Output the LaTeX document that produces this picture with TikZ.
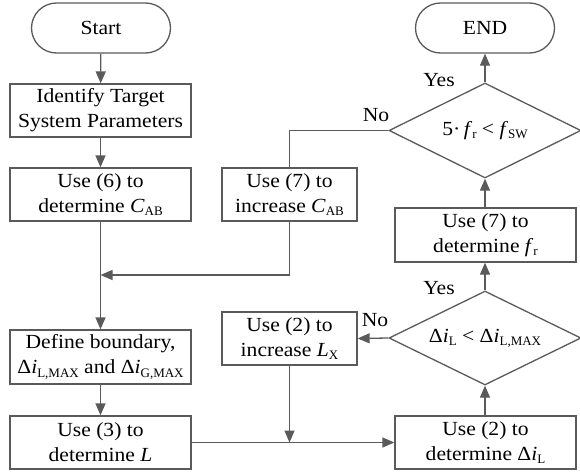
\documentclass[tikz,border=0pt]{standalone}
\usepackage{fontspec}
\setmainfont{Liberation Serif}[FakeStretch=1.08]
\usetikzlibrary{arrows.meta,shapes.geometric}
\definecolor{lc}{HTML}{5A5A5A}
\newcommand\sbs[1]{\raisebox{-0.35ex}{\fontsize{13}{13}\selectfont\addfontfeatures{FakeStretch=1.0}#1}}
\begin{document}
\begin{tikzpicture}[x=1pt,y=-1pt,
  every node/.style={font=\fontsize{20}{25}\selectfont, text=black},
  proc/.style={draw=lc, line width=1.3pt, rectangle, minimum height=53pt, inner sep=0pt, align=center},
  wide/.style={proc, minimum width=181pt},
  narrow/.style={proc, minimum width=135pt},
  term/.style={draw=lc, line width=1.3pt, rectangle, rounded corners=25pt, minimum height=50pt, minimum width=139pt, inner sep=0pt},
  dec/.style={draw=lc, line width=1.3pt, diamond, minimum width=192pt, minimum height=95pt, inner sep=0pt},
  arr/.style={draw=lc, line width=1.3pt, -{Triangle[length=12pt,width=10pt]}},
  ln/.style={draw=lc, line width=1.3pt},
  lab/.style={inner sep=0pt}
]
\useasboundingbox (0,0) rectangle (580,471);
% left column
\node[term] (start) at (101,28) {Start};
\node[wide] (ident) at (100.5,110.5) {Identify Target\\System Parameters};
\node[wide] (use6) at (100.5,194.5) {Use (6) to\\determine \textit{C}\sbs{AB}};
\node[wide, minimum height=54pt] (defb) at (100.5,357) {Define boundary,\\Δ\textit{i}\sbs{L,MAX} and Δ\textit{i}\sbs{G,MAX}};
\node[wide] (use3) at (100.5,442.5) {Use (3) to\\determine \textit{L}};
% middle column
\node[narrow] (use7c) at (289.5,194.5) {Use (7) to\\increase \textit{C}\sbs{AB}};
\node[narrow] (use2x) at (289.5,338.5) {Use (2) to\\increase \textit{L}\sbs{X}};
% right column
\node[term] (endn) at (485,28) {END};
\node[dec, label={center:5·\,\textit{f}\sbs{r} < \textit{f}\sbs{SW}}] (d1) at (485,130.5) {};
\node[wide, minimum height=54pt] (use7f) at (485.5,235) {Use (7) to\\determine \textit{f}\sbs{r}};
\node[dec, minimum height=94pt, label={center:Δ\textit{i}\sbs{L} < Δ\textit{i}\sbs{L,MAX}}] (d2) at (485,338) {};
\node[wide] (use2d) at (485.5,442.5) {Use (2) to\\determine Δ\textit{i}\sbs{L}};
% helper coordinates
\coordinate (merge) at (100.5,275);
\coordinate (join) at (289.5,442.5);
% labels
\node[lab] (yes1) at (439,80) {Yes};
\node[lab] (no1) at (376,115) {No};
\node[lab] (yes2) at (439,288) {Yes};
\node[lab] (no2) at (375,320) {No};
% connectors
\draw[arr] (start) -- (ident);
\draw[arr] (ident) -- (use6);
\draw[arr] (use6) -- (defb);
\draw[arr] (use7c.south) -- (use7c.south |- merge) -- (merge);
\draw[ln] (d1.west) -- (use7c.north |- d1.west) -- (use7c.north);
\draw[arr] (d1.north) -- (endn.south);
\draw[arr] (d1.south |- use7f.north) -- (d1.south);
\draw[arr] (d2.north) -- (d2.north |- use7f.south);
\draw[arr] (d2.west) -- (use2x.east);
\draw[arr] (use2x.south) -- (join);
\draw[arr] (use3.east) -- (use2d.west);
\draw[arr] (d2.south |- use2d.north) -- (d2.south);
\draw[arr] (defb) -- (use3);
\end{tikzpicture}
\end{document}
